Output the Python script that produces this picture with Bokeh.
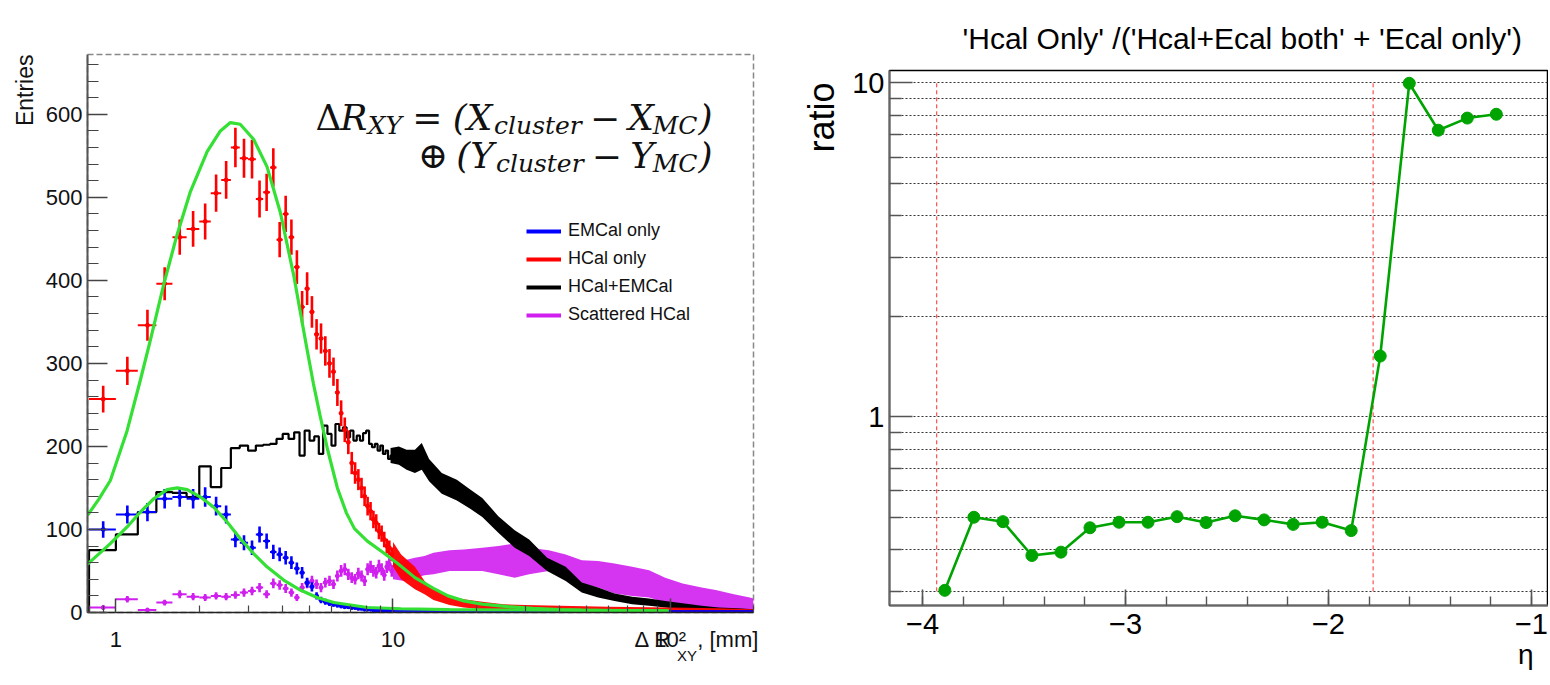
import numpy as np
from bokeh.plotting import figure
from bokeh.layouts import row
from bokeh.models import (Range1d, Label, Legend, LegendItem, SingleIntervalTicker,
                          FixedTicker, CustomJSTickFormatter, LogAxis, Title)
from bokeh.embed import file_html
from bokeh.resources import INLINE

SANS = "Liberation Sans"
SERIF = "DejaVu Serif"

# ---------------- left panel data (0.2 mm bins from 0.8 to 10 mm) ----------------
bin_lo = [round(0.8 + 0.2 * i, 1) for i in range(46)]
bin_w = 0.2

hcal_only = [257, 291, 346, 396, 452, 462, 471, 505, 521, 560, 547, 546, 498, 506, 536,
             449, 480, 452, 416, 368, 390, 362, 335, 330, 315, 300, 290, 265, 240, 220,
             205, 180, 168, 160, 150, 140, 128, 122, 112, 108, 98, 95, 88, 80, 78, 70]
emcal_only = [100, 118, 121, 137, 139, 137, 139, 128, 118, 88, 84, 78, 94, 86, 73,
              70, 66, 60, 53, 48, 36, 31, 20, 15, 13, 11, 10, 9, 8, 7,
              7, 6, 6, 5, 5, 4, 4, 4, 3, 3, 3, 3, 2, 3, 2, 2]
hcal_emcal = [75, 94, 121, 145, 144, 139, 176, 151, 174, 198, 201, 195, 201, 202, 203,
              209, 215, 209, 217, 189, 219, 207, 212, 191, 225, 215, 201, 227, 219, 223,
              211, 219, 207, 213, 207, 216, 219, 203, 199, 203, 195, 201, 191, 195, 185, 189]
scattered = [6, 16, 3, 12, 22, 19, 18, 20, 19, 21, 24, 26, 30, 22, 35,
             33, 29, 24, 18, 30, 35, 38, 34, 30, 36, 38, 34, 44, 50, 52,
             46, 42, 40, 47, 44, 38, 52, 55, 50, 48, 56, 52, 45, 55, 58, 50]

# dense tails (> 10 mm): envelope of the fluctuating bins
black_tail_x = [9.8, 10.5, 11.2, 12.0, 12.7, 13.5, 15.0, 17.0, 19.0, 21.0, 24.0, 27.5, 31.0,
                36.0, 42.0, 48.0, 55.0, 63.0, 73.0, 84.0, 96.0, 111.0, 130.0, 150.0, 175.0, 200.0]
black_tail_lo = [180, 178, 172, 168, 172, 158, 143, 135, 125, 115, 96, 78, 68,
                 50, 38, 24, 18, 14, 10, 8, 6, 4, 3, 2, 1, 0]
black_tail_hi = [198, 200, 196, 196, 204, 185, 168, 160, 148, 138, 116, 99, 88,
                 66, 55, 36, 30, 23, 19, 17, 14, 11, 8, 6, 5, 4]

red_tail_x = [10.0, 10.7, 12.0, 13.0, 14.0, 16.0, 18.0, 21.0, 25.0, 30.0, 40.0, 60.0, 100.0, 150.0, 200.0]
red_tail_lo = [55, 40, 28, 22, 15, 9, 6, 4, 3, 2, 1, 0, 0, 0, 0]
red_tail_hi = [85, 70, 55, 38, 28, 20, 16, 13, 10, 9, 8, 7, 6, 5, 4]

mag_tail_x = [10.0, 11.0, 12.0, 13.0, 14.0, 16.0, 18.0, 21.0, 24.0, 27.5, 31.0, 36.5, 42.0,
              48.0, 55.0, 63.0, 73.0, 84.0, 96.0, 111.0, 130.0, 146.0, 170.0, 194.0, 200.0]
mag_tail_lo = [40, 38, 42, 45, 46, 50, 50, 50, 46, 42, 46, 50, 44,
               35, 30, 23, 20, 18, 12, 6, 4, 2, 1, 0, 0]
mag_tail_hi = [62, 63, 66, 68, 72, 75, 76, 78, 80, 83, 78, 75, 70,
               63, 62, 59, 55, 51, 42, 35, 30, 27, 22, 18, 17]

blue_tail_x = [10.0, 20.0, 50.0, 100.0, 200.0]
blue_tail_lo = [0, 0, 0, 0, 0]
blue_tail_hi = [5, 4, 4, 3, 3]

# fitted curves
fit_big_x = [0.79, 0.866, 0.955, 1.098, 1.226, 1.332, 1.488, 1.663, 1.858, 2.135,
             2.383, 2.59, 2.81, 3.14, 3.51, 3.92, 4.39, 4.63, 4.89, 5.16,
             5.45, 5.81, 6.3, 6.79, 7.26, 8.08, 9.24, 10.4, 12.0, 14.0,
             15.8, 18.0, 21.0, 26.0, 32.0, 40.0, 48.0, 60.0, 80.0, 99.0]
fit_big_y = [117, 136, 159, 219, 280, 328, 395, 455, 507, 555,
             580, 590, 588, 570, 537, 482, 405, 362, 318, 276,
             238, 196, 150, 120, 101, 86, 72, 59, 42, 29,
             20, 14, 10, 7, 5, 3.5, 2.8, 2.4, 2.1, 2.0]
fit_small_x = [0.79, 0.82, 0.955, 1.098, 1.226, 1.37, 1.53, 1.663, 1.81, 2.02,
               2.25, 2.52, 2.81, 3.14, 3.51, 4.03, 4.63, 5.32, 6.12, 8.08,
               10.7, 16.0, 27.2, 50.0, 98.0]
fit_small_y = [58, 63, 83, 103, 121, 137, 148, 150, 148, 139,
               127, 109, 89, 71, 55, 39, 27, 18, 12, 6,
               4.5, 3.5, 3, 2.5, 2]

legend_labels = ["EMCal only", "HCal only", "HCal+EMCal", "Scattered HCal"]
x_major_ticks = [1, 10, 100]
x_minor_ticks = [0.8, 0.9, 2, 3, 4, 5, 6, 7, 8, 9, 20, 30, 40, 50, 60, 70, 80, 90, 200]
# tick labels of the x axis plus the pieces of the ROOT-style axis title (at the axis end)
x_label_pos = [1, 10, 100, 86.7, 161.6]
x_label_txt = ["1", "10", "10\u00b2", "\u0394 R", ", [mm]"]
x_sub_pos = [115.0]
x_sub_txt = ["XY"]
C_BLUE, C_RED, C_BLACK, C_MAG, C_FIT = "#0000ff", "#ff0000", "#000000", "#d01fef", "#33e033"

# ---------------- right panel data ----------------
eta = [-3.89, -3.747, -3.604, -3.461, -3.318, -3.175, -3.032, -2.889, -2.746, -2.603,
       -2.46, -2.317, -2.174, -2.031, -1.888, -1.745, -1.602, -1.459, -1.316, -1.173]
ratio = [0.302, 0.50, 0.485, 0.384, 0.393, 0.465, 0.483, 0.483, 0.502, 0.482,
         0.505, 0.491, 0.476, 0.483, 0.456, 1.52, 9.98, 7.22, 7.85, 8.06]
acceptance_eta = [-3.93, -1.78]
acceptance_y = [0.3, 10.0]
ratio_major_ticks = [1, 10]
ratio_minor_ticks = [0.3, 0.4, 0.5, 0.6, 0.7, 0.8, 0.9, 2, 3, 4, 5, 6, 7, 8, 9]

H = 680

# ======================= LEFT FIGURE =======================
W1 = 770
L_LEFT, L_RIGHT, L_TOP, L_BOTTOM = 87, 753, 54, 612       # frame edges on the page
p1 = figure(width=W1, height=H, x_axis_type="log", x_range=Range1d(0.79, 200),
            y_range=Range1d(0, 672), output_backend="svg", toolbar_location=None,
            min_border_left=L_LEFT, min_border_right=W1 - L_RIGHT,
            min_border_top=L_TOP, min_border_bottom=H - L_BOTTOM,
            background_fill_color="white", border_fill_color="white")
p1.frame_align = False
p1.xgrid.visible = False
p1.ygrid.visible = False
p1.outline_line_color = "#888888"
p1.outline_line_dash = "6 3"
p1.outline_line_width = 1.5

lo = np.array(bin_lo)
hi = lo + bin_w
ctr = lo + bin_w / 2

p1.varea(x=mag_tail_x, y1=mag_tail_lo, y2=mag_tail_hi, fill_color=C_MAG, fill_alpha=0.9)

step_x = [bin_lo[0]] + bin_lo + [bin_lo[-1] + bin_w]
step_y = [0] + hcal_emcal + [hcal_emcal[-1]]
p1.varea(x=black_tail_x, y1=black_tail_lo, y2=black_tail_hi, fill_color=C_BLACK)
p1.step(x=step_x, y=step_y, mode="after", line_color=C_BLACK, line_width=2.2)


def points(vals, color):
    v = np.array(vals, dtype=float)
    e = np.sqrt(v)
    p1.segment(x0=lo, y0=v, x1=hi, y1=v, line_color=color, line_width=2)
    p1.segment(x0=ctr, y0=v - e, x1=ctr, y1=v + e, line_color=color, line_width=2.6)
    p1.scatter(x=ctr, y=v, size=4, color=color)


points(scattered, C_MAG)
p1.varea(x=red_tail_x, y1=red_tail_lo, y2=red_tail_hi, fill_color=C_RED, fill_alpha=0.95)
points(hcal_only, C_RED)
p1.varea(x=blue_tail_x, y1=blue_tail_lo, y2=blue_tail_hi, fill_color=C_BLUE, fill_alpha=0.9)
points(emcal_only, C_BLUE)

p1.line(x=fit_big_x, y=fit_big_y, line_color=C_FIT, line_width=3.2)
p1.line(x=fit_small_x, y=fit_small_y, line_color=C_FIT, line_width=3.2)

# main x axis: ticks only (labels are on the axis below it)
xa = p1.xaxis[0]
xa.ticker = FixedTicker(ticks=x_major_ticks, minor_ticks=x_minor_ticks)
xa.formatter = CustomJSTickFormatter(code="return '';")
xa.major_label_text_font_size = "0px"
xa.major_label_standoff = 0
xa.major_tick_in = 14
xa.minor_tick_in = 7
xa.axis_line_color = "#222222"
xa.axis_line_width = 1.5

ya = p1.yaxis[0]
ya.ticker = SingleIntervalTicker(interval=100, num_minor_ticks=5)
ya.major_tick_in = 20
ya.minor_tick_in = 11
ya.major_label_standoff = 5
ya.axis_line_color = "#555555"
ya.axis_line_width = 2
ya.major_label_text_font_size = "22px"
for ax in (xa, ya):
    ax.major_tick_out = 0
    ax.minor_tick_out = 0
    ax.major_label_text_font = SANS
    ax.major_label_text_color = "#111111"
    ax.major_tick_line_color = "#444444"
    ax.minor_tick_line_color = "#444444"
    ax.major_tick_line_width = 1.5
    ax.minor_tick_line_width = 1.2


def label_axis(pos, txt, size, standoff):
    ax = LogAxis(ticker=FixedTicker(ticks=pos, minor_ticks=[]),
                 formatter=CustomJSTickFormatter(args=dict(pos=pos, txt=txt), code="""
                     for (let i = 0; i < pos.length; i++) {
                         if (Math.abs(pos[i] - tick) < 1e-9 * Math.max(1, Math.abs(tick))) { return txt[i]; }
                     }
                     return "";
                 """))
    ax.axis_line_color = None
    ax.major_tick_line_color = None
    ax.minor_tick_line_color = None
    ax.major_tick_in = 0
    ax.major_tick_out = 0
    ax.minor_tick_in = 0
    ax.minor_tick_out = 0
    ax.major_label_standoff = standoff
    ax.major_label_text_font = SANS
    ax.major_label_text_font_size = f"{size}px"
    ax.major_label_text_color = "#111111"
    p1.add_layout(ax, "below")


label_axis(x_label_pos, x_label_txt, 22, 14)
label_axis(x_sub_pos, x_sub_txt, 15, -8)

leg_items = []
for lab, col in zip(legend_labels, [C_BLUE, C_RED, C_BLACK, C_MAG]):
    r = p1.line(x=[np.nan, np.nan], y=[np.nan, np.nan], line_color=col, line_width=4)
    leg_items.append(LegendItem(label=lab, renderers=[r]))
legend = Legend(items=leg_items, location=(439, 287), glyph_width=35, glyph_height=18,
                label_height=18, label_standoff=7, spacing=7, padding=0, margin=0,
                border_line_color=None, background_fill_alpha=0,
                label_text_font=SANS, label_text_font_size="18px", label_text_color="#111111")
p1.add_layout(legend)

p1.add_layout(Title(text="Entries", align="right", standoff=9, text_font=SANS,
                    text_font_size="23px", text_font_style="normal", text_color="#111111"), "left")


def lbl(p, text, x, y, size, font=SANS, style="normal", align="left", baseline="alphabetic",
        color="#111111"):
    p.add_layout(Label(x=x, y=y, x_units="screen", y_units="screen", text=text,
                       text_font=font, text_font_size=f"{size}px", text_font_style=style,
                       text_align=align, text_baseline=baseline, text_color=color))


# approximate advance widths (em), DejaVu Serif
CW = {"Δ": 0.72, "R": 0.72, "X": 0.72, "Y": 0.67, "M": 0.93, "C": 0.73, "c": 0.56, "l": 0.32,
      "u": 0.64, "s": 0.51, "t": 0.40, "e": 0.59, "r": 0.48, "=": 0.84, "−": 0.84, "(": 0.39,
      ")": 0.39, "⊕": 0.84}


def compose(p, pieces, x_right, y_base):
    """pieces: (text, size, style, dy, gap_before_px), laid out right to left"""
    x = x_right
    for text, size, style, dy, gap in reversed(pieces):
        lbl(p, text, x, y_base + dy, size, font=SERIF, style=style, align="right")
        x -= sum(CW.get(ch, 0.6) for ch in text) * size + gap


F, f = 36, 25
fx1 = lambda px: px - L_LEFT          # frame-relative screen coordinates
fy1 = lambda py: L_BOTTOM - py
compose(p1, [("Δ", F, "normal", 0, 0), ("R", F, "italic", 0, 0),
             ("XY", f, "italic", -8, 0), ("=", F, "normal", 0, 10), ("(X", F, "italic", 0, 10),
             ("cluster", f, "italic", -8, 2), ("−", F, "normal", 0, 8), ("X", F, "italic", 0, 8),
             ("MC", f, "italic", -8, 2), (")", F, "italic", 0, 1)],
        fx1(712), fy1(117))
compose(p1, [("⊕", F, "normal", 0, 0), ("(Y", F, "italic", 0, 8),
             ("cluster", f, "italic", -8, 2), ("−", F, "normal", 0, 8), ("Y", F, "italic", 0, 8),
             ("MC", f, "italic", -8, 2), (")", F, "italic", 0, 1)],
        fx1(712), fy1(155))

# ======================= RIGHT FIGURE =======================
W2 = 778
R_LEFT, R_TOP, R_BOTTOM = 889 - W1, 70, 605
p2 = figure(width=W2, height=H, y_axis_type="log", x_range=Range1d(-4.1626, -0.916),
            y_range=Range1d(0.272, 10.9), output_backend="svg", toolbar_location=None,
            min_border_left=R_LEFT, min_border_right=0, min_border_top=R_TOP,
            min_border_bottom=H - R_BOTTOM,
            background_fill_color="white", border_fill_color="white")
p2.frame_align = False
p2.outline_line_color = "#000000"
p2.outline_line_width = 1.5
p2.xgrid.visible = False
p2.ygrid.grid_line_color = "#333333"
p2.ygrid.grid_line_dash = "2 2"
p2.ygrid.grid_line_width = 1
p2.ygrid.minor_grid_line_color = "#333333"
p2.ygrid.minor_grid_line_dash = "2 2"
p2.ygrid.minor_grid_line_width = 1

p2.segment(x0=acceptance_eta, y0=[acceptance_y[0]] * 2, x1=acceptance_eta,
           y1=[acceptance_y[1]] * 2, line_color="#ff3030", line_dash="4 3", line_width=1)
p2.line(x=eta, y=ratio, line_color="#00a400", line_width=2.6)
p2.scatter(x=eta, y=ratio, size=12, color="#00a400")

p2.xaxis.ticker = SingleIntervalTicker(interval=1, num_minor_ticks=5)
p2.xaxis.formatter = CustomJSTickFormatter(code="""
    const v = Math.round(tick);
    return v < 0 ? "\u2212" + Math.abs(v) : String(v);
""")
p2.yaxis.ticker = FixedTicker(ticks=ratio_major_ticks, minor_ticks=ratio_minor_ticks)
p2.yaxis.formatter = CustomJSTickFormatter(code="return String(Math.round(tick));")
for ax in (p2.xaxis, p2.yaxis):
    ax.major_tick_out = 0
    ax.minor_tick_out = 0
    ax.major_label_text_font = SANS
    ax.major_label_text_font_size = "29px"
    ax.major_label_text_color = "#000000"
    ax.major_tick_line_color = "#555555"
    ax.minor_tick_line_color = "#555555"
    ax.major_tick_line_width = 1.6
    ax.minor_tick_line_width = 1.4
    ax.axis_line_color = "#666666"
    ax.axis_line_width = 2
p2.xaxis.major_tick_in = 16
p2.xaxis.minor_tick_in = 9
p2.xaxis.major_label_standoff = 8
p2.yaxis.major_tick_in = 23
p2.yaxis.minor_tick_in = 12
p2.yaxis.major_label_standoff = 5

p2.title.text = "'Hcal Only' /('Hcal+Ecal both' + 'Ecal only')"
p2.title.align = "left"
p2.title.offset = 73
p2.title.standoff = 32
p2.title.text_font = SANS
p2.title.text_font_size = "30px"
p2.title.text_font_style = "normal"
p2.title.text_color = "#000000"

p2.add_layout(Title(text="ratio", align="right", offset=12, standoff=16, text_font=SANS,
                    text_font_size="36px", text_font_style="normal", text_color="#000000"), "left")
p2.add_layout(Title(text="η", align="right", offset=15, standoff=0, text_font=SANS,
                    text_font_size="28px", text_font_style="normal", text_color="#000000"), "below")

layout = row(p1, p2)
open("out.html", "w").write(file_html(layout, INLINE))
